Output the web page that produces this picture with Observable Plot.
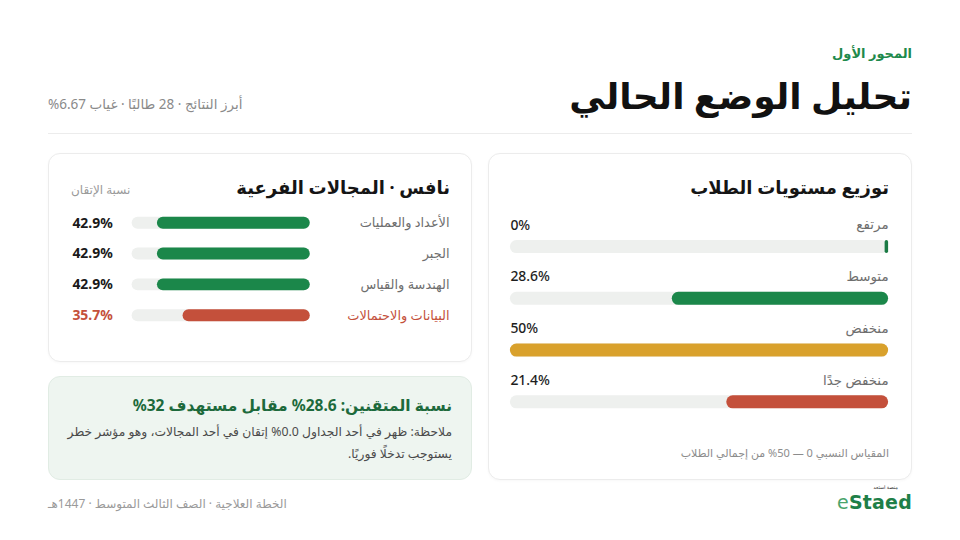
<!DOCTYPE html>
<html lang="ar">
<head>
<meta charset="utf-8">
<script src="https://cdn.jsdelivr.net/npm/d3@7"></script>
<script src="https://cdn.jsdelivr.net/npm/@observablehq/plot@0.6"></script>
<style>
  html, body { margin: 0; padding: 0; background: #ffffff; }
  body { width: 960px; height: 540px; position: relative; overflow: hidden;
         font-family: "Noto Sans", "DejaVu Sans", Inter, sans-serif; color: #1a1a1a; }
  .abs { position: absolute; }
  .rtl { direction: rtl; text-align: right; white-space: nowrap; }
  #kicker { right: 48px; top: 44px; font-size: 13px; font-weight: 700; color: #1f8a4c; }
  #title { right: 48px; top: 70px; font-size: 36px; font-weight: 800; color: #111; line-height: 52px; }
  #sub { left: 48px; top: 95px; font-size: 13.5px; color: #8a8a8a; }
  #divider { left: 48px; top: 133px; width: 864px; height: 1px; background: #ececec; }
  .card { background: #fff; border: 1px solid #ececec; border-radius: 12px;
          box-shadow: 0 1px 3px rgba(0,0,0,0.03); box-sizing: border-box; }
  #cardL { left: 48px; top: 153px; width: 424px; height: 209px; }
  #cardR { left: 488px; top: 153px; width: 424px; height: 327px; }
  .card svg { position: absolute; left: 0; top: 0; }
  .ctitle { font-size: 18px; font-weight: 700; color: #151515; }
  #tL { right: 21px; top: 21px; }
  #tLsub { left: 22px; top: 27px; font-size: 12px; color: #9a9a9a; }
  #tR { right: 22px; top: 21px; }
  #noteR { right: 22px; top: 291px; font-size: 11px; color: #8c8c8c; }
  #box { left: 48px; top: 376px; width: 424px; height: 104px; background: #eef5f0;
         border: 1px solid #e1ece4; border-radius: 12px; box-sizing: border-box; }
  #boxT { right: 19px; top: 17px; font-size: 15.5px; font-weight: 700; color: #1d6a3c; }
  #boxP { right: 19px; top: 44px; width: 392px; font-size: 12.3px; color: #4a4a4a;
          line-height: 22px; white-space: normal; }
  #foot { left: 48px; top: 495px; font-size: 12px; color: #9a9a9a; }
  #logo { right: 48px; top: 491px; font-family: "DejaVu Sans", sans-serif; font-size: 19px;
          letter-spacing: 0.2px; direction: ltr; }
  #logo .e { color: #4aa46c; }
  #logo .s { color: #1f7f48; font-weight: 600; }
  #logoTiny { right: 62px; top: 484px; font-size: 5px; color: #333; line-height: 6px; }
</style>
</head>
<body>
<script>
// ---------- data ----------
const kickerText = "المحور الأول";
const titleText = "تحليل الوضع الحالي";
const subText = "أبرز النتائج · 28 طالبًا · غياب 6.67%";

const domainTitle = "نافس · المجالات الفرعية";
const domainSub = "نسبة الإتقان";
const domainNames = ["الأعداد والعمليات", "الجبر", "الهندسة والقياس", "البيانات والاحتمالات"];
const domainValues = [42.9, 42.9, 42.9, 35.7];
const domainFlags = ["ok", "ok", "ok", "weak"];

const levelTitle = "توزيع مستويات الطلاب";
const levelNames = ["مرتفع", "متوسط", "منخفض", "منخفض جدًا"];
const levelValues = [0, 28.6, 50, 21.4];
const levelKinds = ["high", "mid", "low", "vlow"];
const levelNote = "المقياس النسبي 0 — 50% من إجمالي الطلاب";
const scaleMax = 50;

const boxTitle = "نسبة المتقنين: 28.6% مقابل مستهدف 32%";
const boxText = "ملاحظة: ظهر في أحد الجداول 0.0% إتقان في أحد المجالات، وهو مؤشر خطر يستوجب تدخلًا فوريًا.";
const footText = "الخطة العلاجية · الصف الثالث المتوسط · 1447هـ";

// ---------- palette ----------
const GREEN = "#1b874a", RED = "#c4503b", GOLD = "#d9a12c", TRACK = "#eef0ee";
const FONT = '"Noto Sans", "DejaVu Sans", Inter, sans-serif';

function el(tag, id, cls, text, parent) {
  const e = document.createElement(tag);
  if (id) e.id = id;
  if (cls) e.className = cls;
  if (text != null) e.textContent = text;
  (parent || document.body).appendChild(e);
  return e;
}

el("div", "kicker", "abs rtl", kickerText);
el("div", "title", "abs rtl", titleText);
el("div", "sub", "abs rtl", subText);
el("div", "divider", "abs");

// ---------- left card: domains ----------
const cardL = el("div", "cardL", "abs card");
const domains = domainNames.map((name, i) => ({name, value: domainValues[i], flag: domainFlags[i]}));
const colorOf = d => d.flag === "weak" ? RED : GREEN;

const plotL = Plot.plot({
  width: 424, height: 209,
  marginLeft: 23, marginRight: 22, marginTop: 0, marginBottom: 0,
  style: {background: "transparent", fontFamily: FONT, overflow: "visible"},
  x: {domain: [0, scaleMax], range: [262, 83], axis: null},
  y: {type: "band", domain: domainNames, range: [44, 187], padding: 19 / 31, round: false, axis: null},
  marks: [
    Plot.barX(domains, {y: "name", x1: 0, x2: scaleMax, fill: TRACK, rx: 6}),
    Plot.barX(domains, {y: "name", x1: 0, x2: "value", fill: colorOf, rx: 6}),
    Plot.text(domains, {y: "name", text: "name", frameAnchor: "right", textAnchor: "end",
      fill: d => d.flag === "weak" ? RED : "#6e6e6e", fontSize: 13}),
    Plot.text(domains, {y: "name", text: d => d.value.toFixed(1) + "%", frameAnchor: "left",
      textAnchor: "start", fill: d => d.flag === "weak" ? RED : "#1a1a1a", fontSize: 14, fontWeight: 700})
  ]
});
cardL.appendChild(plotL);
el("div", "tL", "abs rtl ctitle", domainTitle, cardL);
el("div", "tLsub", "abs rtl", domainSub, cardL);

// ---------- right card: levels ----------
const cardR = el("div", "cardR", "abs card");
const levels = levelNames.map((name, i) => ({name, value: levelValues[i], kind: levelKinds[i]}));
const levelColor = d => d.kind === "low" ? GOLD : d.kind === "vlow" ? RED : GREEN;

const plotR = Plot.plot({
  width: 424, height: 327,
  marginLeft: 21, marginRight: 23, marginTop: 0, marginBottom: 0,
  style: {background: "transparent", fontFamily: FONT, overflow: "visible"},
  x: {domain: [0, scaleMax], range: [401, 21], axis: null},
  y: {type: "band", domain: levelNames, range: [47.5, 294.5], padding: 0.75, round: false, axis: null},
  marks: [
    Plot.barX(levels, {y: "name", x1: 0, x2: scaleMax, fill: TRACK, rx: 6.5}),
    Plot.barX(levels.filter(d => d.value > 0), {y: "name", x1: 0, x2: "value", fill: levelColor, rx: 6.5}),
    Plot.barX(levels.filter(d => d.value === 0), {y: "name", x1: 0, x2: "value", insetLeft: -3.5,
      fill: "#1a7a44", rx: 1.75}),
    Plot.text(levels, {y: "name", dy: -22, text: "name", frameAnchor: "right", textAnchor: "end",
      fill: "#6e6e6e", fontSize: 13.5}),
    Plot.text(levels, {y: "name", dy: -22, text: d => d.value + "%", frameAnchor: "left",
      textAnchor: "start", fill: "#1e1e1e", fontSize: 14, fontWeight: 500})
  ]
});
cardR.appendChild(plotR);
el("div", "tR", "abs rtl ctitle", levelTitle, cardR);
el("div", "noteR", "abs rtl", levelNote, cardR);

// ---------- highlight box ----------
const box = el("div", "box", "abs");
el("div", "boxT", "abs rtl", boxTitle, box);
el("div", "boxP", "abs rtl", boxText, box);

// ---------- footer ----------
el("div", "foot", "abs rtl", footText);
const logo = el("div", "logo", "abs");
logo.innerHTML = '<span class="e">e</span><span class="s">Staed</span>';
el("div", "logoTiny", "abs rtl", "منصة استعد");
</script>
</body>
</html>
